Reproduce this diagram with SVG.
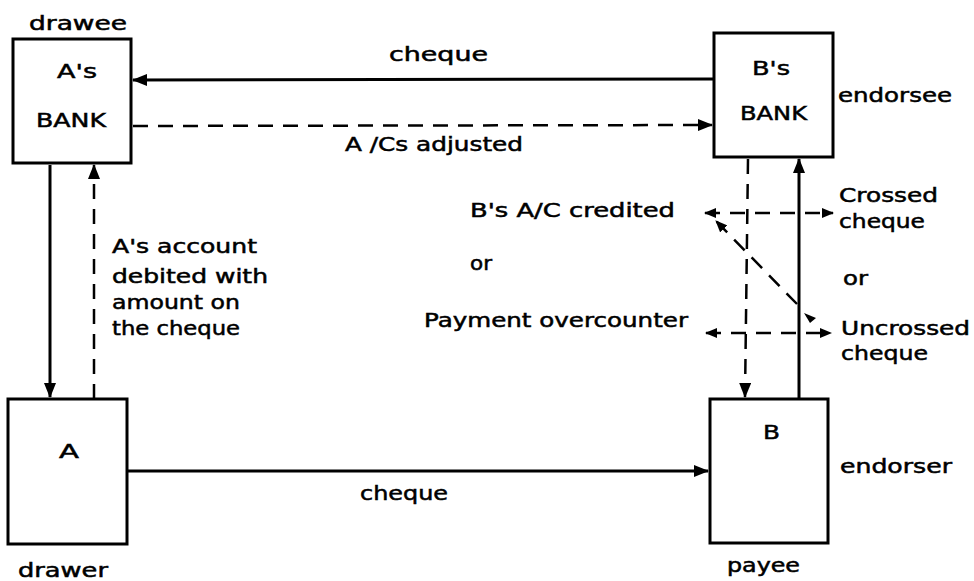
<svg xmlns="http://www.w3.org/2000/svg" width="974" height="581" viewBox="0 0 974 581">
<style>
  .box { fill: #fff; stroke: #000; stroke-width: 3; }
  .t { font-family: "DejaVu Sans", "Liberation Sans", sans-serif; font-size: 19px; fill: #000; stroke: #000; stroke-width: 0.5; }
  .tb { font-family: "DejaVu Sans", "Liberation Sans", sans-serif; font-size: 20px; fill: #000; stroke: #000; stroke-width: 0.5; }
  .solid { stroke: #000; stroke-width: 3; fill: none; }
  .dash { stroke: #000; stroke-width: 2.5; fill: none; stroke-dasharray: 15 10; }
</style>
<defs>
  <marker id="ah" markerUnits="userSpaceOnUse" markerWidth="16" markerHeight="12" refX="14" refY="6" orient="auto-start-reverse">
    <path d="M0,0 L15,6 L0,12 Z" fill="#000"/>
  </marker>
  <marker id="ahs" markerUnits="userSpaceOnUse" markerWidth="12" markerHeight="10" refX="11" refY="5" orient="auto-start-reverse">
    <path d="M0,0 L12,5 L0,10 Z" fill="#000"/>
  </marker>
</defs>
<rect width="974" height="581" fill="#fff"/>

<g id="connectors">
  <line class="solid" x1="714" y1="79" x2="133" y2="80" marker-end="url(#ah)"/>
  <line class="dash" x1="133" y1="126" x2="712" y2="125" marker-end="url(#ah)"/>
  <line class="solid" x1="50" y1="165" x2="50" y2="397" marker-end="url(#ah)"/>
  <line class="dash" x1="94" y1="399" x2="94" y2="165" marker-end="url(#ah)"/>
  <line class="solid" x1="127" y1="471" x2="708" y2="471" marker-end="url(#ah)"/>
  <line class="dash" x1="748" y1="159" x2="745" y2="397" marker-end="url(#ah)"/>
  <line class="solid" x1="799" y1="399" x2="799" y2="159" marker-end="url(#ah)"/>
  <line class="dash" x1="705" y1="213" x2="833" y2="213" marker-start="url(#ahs)" marker-end="url(#ahs)"/>
  <line class="dash" x1="706" y1="333" x2="831" y2="333" marker-start="url(#ahs)" marker-end="url(#ahs)"/>
  <line class="dash" x1="797" y1="304" x2="716" y2="221" marker-end="url(#ahs)"/>
  <path d="M804,313 L816,318 L810,323 Z" fill="#000"/>
</g>

<g id="node-as-bank">
  <rect class="box" x="13" y="39" width="118" height="124"/>
  <text class="tb" x="57" y="78" textLength="40" lengthAdjust="spacingAndGlyphs">A's</text>
  <text class="tb" x="36" y="127" textLength="70" lengthAdjust="spacingAndGlyphs">BANK</text>
  <text class="t" x="29" y="30" textLength="98" lengthAdjust="spacingAndGlyphs">drawee</text>
</g>

<g id="node-bs-bank">
  <rect class="box" x="714" y="33" width="119" height="124"/>
  <text class="tb" x="752" y="75" textLength="38" lengthAdjust="spacingAndGlyphs">B's</text>
  <text class="tb" x="740" y="120" textLength="67" lengthAdjust="spacingAndGlyphs">BANK</text>
  <text class="t" x="838" y="102" textLength="114" lengthAdjust="spacingAndGlyphs">endorsee</text>
</g>

<g id="node-a">
  <rect class="box" x="8" y="399" width="119" height="145"/>
  <text class="tb" x="59" y="458" textLength="20" lengthAdjust="spacingAndGlyphs">A</text>
  <text class="t" x="18" y="577" textLength="90" lengthAdjust="spacingAndGlyphs">drawer</text>
</g>

<g id="node-b">
  <rect class="box" x="710" y="399" width="118" height="144"/>
  <text class="tb" x="763" y="439" textLength="17" lengthAdjust="spacingAndGlyphs">B</text>
  <text class="t" x="840" y="473" textLength="112" lengthAdjust="spacingAndGlyphs">endorser</text>
  <text class="t" x="727" y="572" textLength="73" lengthAdjust="spacingAndGlyphs">payee</text>
</g>

<g id="labels">
  <text class="t" x="389" y="61" textLength="99" lengthAdjust="spacingAndGlyphs">cheque</text>
  <text class="t" x="345" y="151" textLength="178" lengthAdjust="spacingAndGlyphs">A /Cs adjusted</text>
  <text class="t" x="112" y="253" textLength="145" lengthAdjust="spacingAndGlyphs">A's account</text>
  <text class="t" x="112" y="283" textLength="156" lengthAdjust="spacingAndGlyphs">debited with</text>
  <text class="t" x="112" y="309" textLength="128" lengthAdjust="spacingAndGlyphs">amount on</text>
  <text class="t" x="112" y="335" textLength="128" lengthAdjust="spacingAndGlyphs">the cheque</text>
  <text class="t" x="470" y="217" textLength="205" lengthAdjust="spacingAndGlyphs">B's A/C credited</text>
  <text class="t" x="470" y="270" textLength="22" lengthAdjust="spacingAndGlyphs">or</text>
  <text class="t" x="424" y="327" textLength="264" lengthAdjust="spacingAndGlyphs">Payment overcounter</text>
  <text class="t" x="839" y="202" textLength="99" lengthAdjust="spacingAndGlyphs">Crossed</text>
  <text class="t" x="839" y="228" textLength="86" lengthAdjust="spacingAndGlyphs">cheque</text>
  <text class="t" x="843" y="285" textLength="25" lengthAdjust="spacingAndGlyphs">or</text>
  <text class="t" x="841" y="335" textLength="129" lengthAdjust="spacingAndGlyphs">Uncrossed</text>
  <text class="t" x="841" y="360" textLength="87" lengthAdjust="spacingAndGlyphs">cheque</text>
  <text class="t" x="360" y="500" textLength="88" lengthAdjust="spacingAndGlyphs">cheque</text>
</g>
</svg>
